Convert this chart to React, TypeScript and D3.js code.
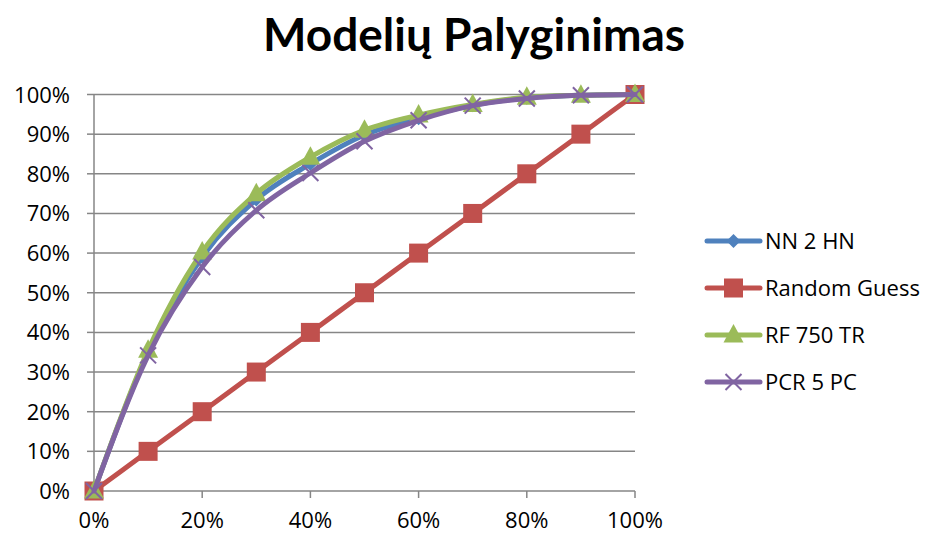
import React from "react";
import * as d3 from "d3";

// Cumulative share of targets captured vs. share of population
const xValues = [0, 0.1, 0.2, 0.3, 0.4, 0.5, 0.6, 0.7, 0.8, 0.9, 1.0];
const nn2hn = [0, 0.35, 0.59, 0.735, 0.825, 0.898, 0.94, 0.973, 0.992, 0.998, 1.0];
const randomGuess = [0, 0.1, 0.2, 0.3, 0.4, 0.5, 0.6, 0.7, 0.8, 0.9, 1.0];
const rf750tr = [0, 0.355, 0.603, 0.75, 0.842, 0.91, 0.948, 0.975, 0.993, 0.998, 1.0];
const pcr5pc = [0, 0.342, 0.565, 0.708, 0.802, 0.882, 0.935, 0.972, 0.99, 0.998, 1.0];

const seriesNames = ["NN 2 HN", "Random Guess", "RF 750 TR", "PCR 5 PC"];
const seriesColors = ["#4F81BD", "#C0504D", "#9BBB59", "#8064A2"];
const seriesMarkers = ["diamond", "square", "triangle", "cross"];
const seriesValues = [nn2hn, randomGuess, rf750tr, pcr5pc];

const yTicks = [0, 0.1, 0.2, 0.3, 0.4, 0.5, 0.6, 0.7, 0.8, 0.9, 1.0];
const xTicks = [0, 0.2, 0.4, 0.6, 0.8, 1.0];

const title = "Modelių Palyginimas";

const W = 928;
const H = 535;
const titleFont = "Lato, 'Open Sans', sans-serif";
const font = "'Open Sans', 'Noto Sans', sans-serif";

function Marker({ kind, x, y, color }: { kind: string; x: number; y: number; color: string }) {
  if (kind === "diamond") {
    const r = 7;
    return <path d={`M${x},${y - r}L${x + r},${y}L${x},${y + r}L${x - r},${y}Z`} fill={color} />;
  }
  if (kind === "square") {
    const s = 19;
    return <rect x={x - s / 2} y={y - s / 2} width={s} height={s} fill={color} />;
  }
  if (kind === "triangle") {
    const r = 10;
    return (
      <path
        d={`M${x},${y - r * 1.1}L${x + r},${y + r * 0.75}L${x - r},${y + r * 0.75}Z`}
        fill={color}
      />
    );
  }
  const r = 8;
  return (
    <path
      d={`M${x - r},${y - r}L${x + r},${y + r}M${x - r},${y + r}L${x + r},${y - r}`}
      stroke={color}
      strokeWidth={2}
      fill="none"
    />
  );
}

export default function App() {
  const x = d3.scaleLinear().domain([0, 1]).range([94, 635]);
  const y = d3.scaleLinear().domain([0, 1]).range([491, 94.5]);
  const pct = d3.format(".0%");

  const line = d3
    .line<number>()
    .x((_, i) => x(xValues[i]))
    .y((v) => y(v))
    .curve(d3.curveMonotoneX);

  const legendY = [241, 288, 335, 382];

  return (
    <svg width={W} height={H} style={{ position: "absolute", left: 0, top: 0, background: "#fff" }}>
      <text
        x={474}
        y={51}
        textAnchor="middle"
        fontFamily={titleFont}
        fontWeight="bold"
        fontSize={46}
        fill="#000"
      >
        {title}
      </text>

      {/* horizontal gridlines and y ticks */}
      {yTicks.map((t) => (
        <g key={`y${t}`}>
          <line x1={x(0)} x2={x(1)} y1={y(t)} y2={y(t)} stroke="#868686" strokeWidth={1.5} />
          <line x1={x(0) - 7} x2={x(0)} y1={y(t)} y2={y(t)} stroke="#868686" strokeWidth={1.5} />
          <text
            x={70}
            y={y(t) + 8}
            textAnchor="end"
            fontFamily={font}
            fontSize={22}
            fill="#000"
          >
            {pct(t)}
          </text>
        </g>
      ))}

      {/* axes */}
      <line x1={x(0)} x2={x(0)} y1={y(0)} y2={y(1)} stroke="#868686" strokeWidth={1.5} />
      {xTicks.map((t) => (
        <g key={`x${t}`}>
          <line x1={x(t)} x2={x(t)} y1={y(0)} y2={y(0) + 7} stroke="#868686" strokeWidth={1.5} />
          <text
            x={x(t)}
            y={528}
            textAnchor="middle"
            fontFamily={font}
            fontSize={22}
            fill="#000"
          >
            {pct(t)}
          </text>
        </g>
      ))}

      {/* series */}
      {seriesValues.map((vals, si) => (
        <g key={seriesNames[si]}>
          <path
            d={line(vals) || ""}
            fill="none"
            stroke={seriesColors[si]}
            strokeWidth={5}
            strokeLinejoin="round"
            strokeLinecap="round"
          />
          {vals.map((v, i) => (
            <Marker
              key={i}
              kind={seriesMarkers[si]}
              x={x(xValues[i])}
              y={y(v)}
              color={seriesColors[si]}
            />
          ))}
        </g>
      ))}

      {/* legend */}
      {seriesNames.map((name, i) => (
        <g key={`leg${name}`}>
          <line
            x1={707}
            x2={760}
            y1={legendY[i]}
            y2={legendY[i]}
            stroke={seriesColors[i]}
            strokeWidth={5}
            strokeLinecap="round"
          />
          <Marker kind={seriesMarkers[i]} x={733.5} y={legendY[i]} color={seriesColors[i]} />
          <text
            x={765}
            y={legendY[i] + 8}
            fontFamily={font}
            fontSize={22}
            fill="#000"
          >
            {name}
          </text>
        </g>
      ))}
    </svg>
  );
}
